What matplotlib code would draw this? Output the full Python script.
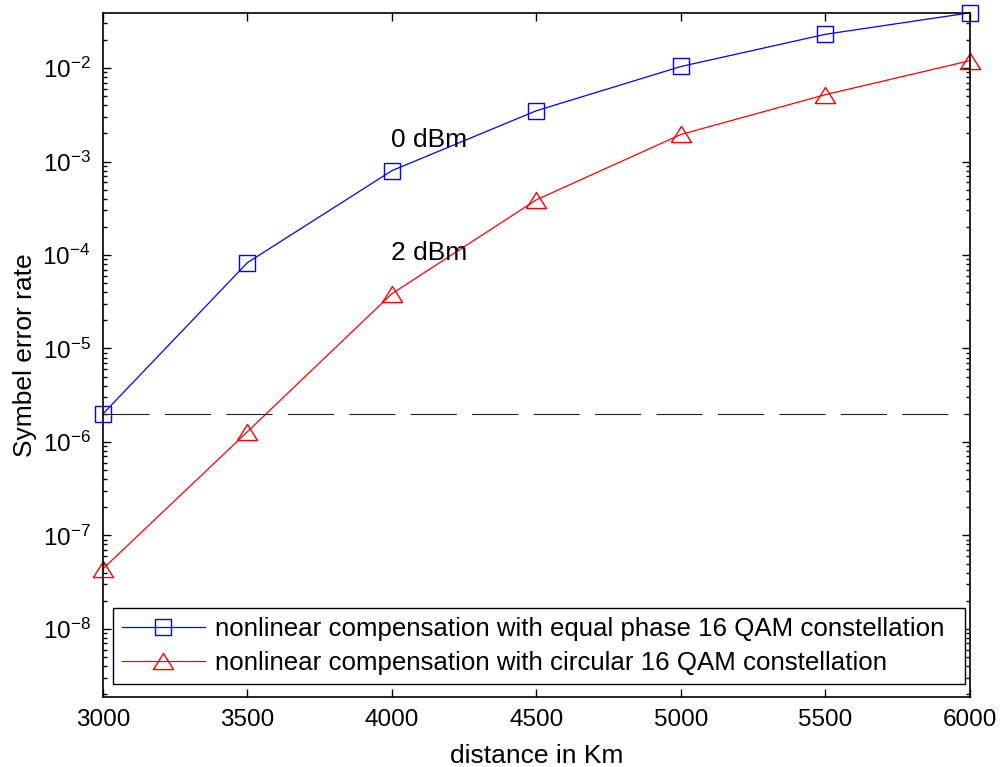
import matplotlib
matplotlib.use("Agg")
import matplotlib.pyplot as plt
from matplotlib.ticker import FixedLocator, LogLocator, FuncFormatter, NullFormatter
import numpy as np

distance = [3000, 3500, 4000, 4500, 5000, 5500, 6000]
ser_equal_phase = [2.0e-6, 8.3e-5, 8.0e-4, 3.5e-3, 1.04e-2, 2.3e-2, 3.9e-2]
ser_circular = [4.4e-8, 1.29e-6, 3.86e-5, 3.9e-4, 1.95e-3, 5.2e-3, 1.2e-2]
threshold = 2.0e-6
label_equal = "nonlinear compensation with equal phase 16 QAM constellation"
label_circ = "nonlinear compensation with circular 16 QAM constellation"
annotations = [("0 dBm", 3995, 1.7e-3), ("2 dBm", 3995, 1.05e-4)]
xticks = [3000, 3500, 4000, 4500, 5000, 5500, 6000]

plt.rcParams['font.family'] = ['Liberation Sans', 'DejaVu Sans']
plt.rcParams['mathtext.fontset'] = 'custom'
plt.rcParams['mathtext.rm'] = 'Liberation Sans'
plt.rcParams['mathtext.it'] = 'Liberation Sans'
FS = 19
LFS = 18.6
TFS = 17.5

fig = plt.figure(figsize=(10.02, 7.67), dpi=100)
ax = fig.add_axes([0.1028, 0.0913, 0.9680 - 0.1028, 0.983 - 0.0913])

tri = [(-1, -0.8), (1, -0.8), (0, 0.8), (-1, -0.8)]
ax.plot(distance, ser_equal_phase, color='#0000ff', lw=0.9, marker='s', ms=11.3,
        mfc='none', mec='#0000ff', mew=1.0, label=label_equal, clip_on=False)
ax.plot(distance, ser_circular, color='#ff0000', lw=0.9, marker=tri, ms=14.5,
        mfc='none', mec='#ff0000', mew=1.0, label=label_circ, clip_on=False)
ax.axhline(threshold, color='#222222', lw=0.8, dashes=(41.5, 13.8))

for txt, x, y in annotations:
    ax.text(x, y, txt, fontsize=FS, ha='left', va='center')

ax.set_yscale('log')
ax.set_xlim(3000, 6000)
ax.set_ylim(1.87e-9, 3.88e-2)
ax.xaxis.set_major_locator(FixedLocator(xticks))
ax.set_xticklabels([str(t) for t in xticks])
ax.yaxis.set_major_locator(FixedLocator([1e-8, 1e-7, 1e-6, 1e-5, 1e-4, 1e-3, 1e-2]))
ax.yaxis.set_minor_locator(LogLocator(base=10, subs=np.arange(2, 10), numticks=20))
ax.yaxis.set_minor_formatter(NullFormatter())
ax.yaxis.set_major_formatter(FuncFormatter(
    lambda v, p: r'$\mathregular{10^{%d}}$' % int(round(np.log10(v)))))

ax.tick_params(which='both', direction='in', top=True, right=True, labelsize=TFS, width=1)
ax.tick_params(which='major', length=6, pad=9)
ax.tick_params(which='minor', length=3)
for s in ax.spines.values():
    s.set_linewidth(1.2)

ax.set_xlabel("distance in Km", fontsize=FS, labelpad=9)
ax.set_ylabel("Symbel error rate", fontsize=FS, labelpad=4)

leg = ax.legend(loc='lower left', bbox_to_anchor=(0.0115, 0.019, 0.983, 0.12),
                mode='expand', borderaxespad=0, fontsize=LFS, frameon=True,
                fancybox=False, edgecolor='black', framealpha=1,
                handlelength=3.2, borderpad=0.35, labelspacing=0.4,
                handletextpad=0.4)
leg.get_frame().set_linewidth(1.0)

fig.savefig("out.png", dpi=100)
